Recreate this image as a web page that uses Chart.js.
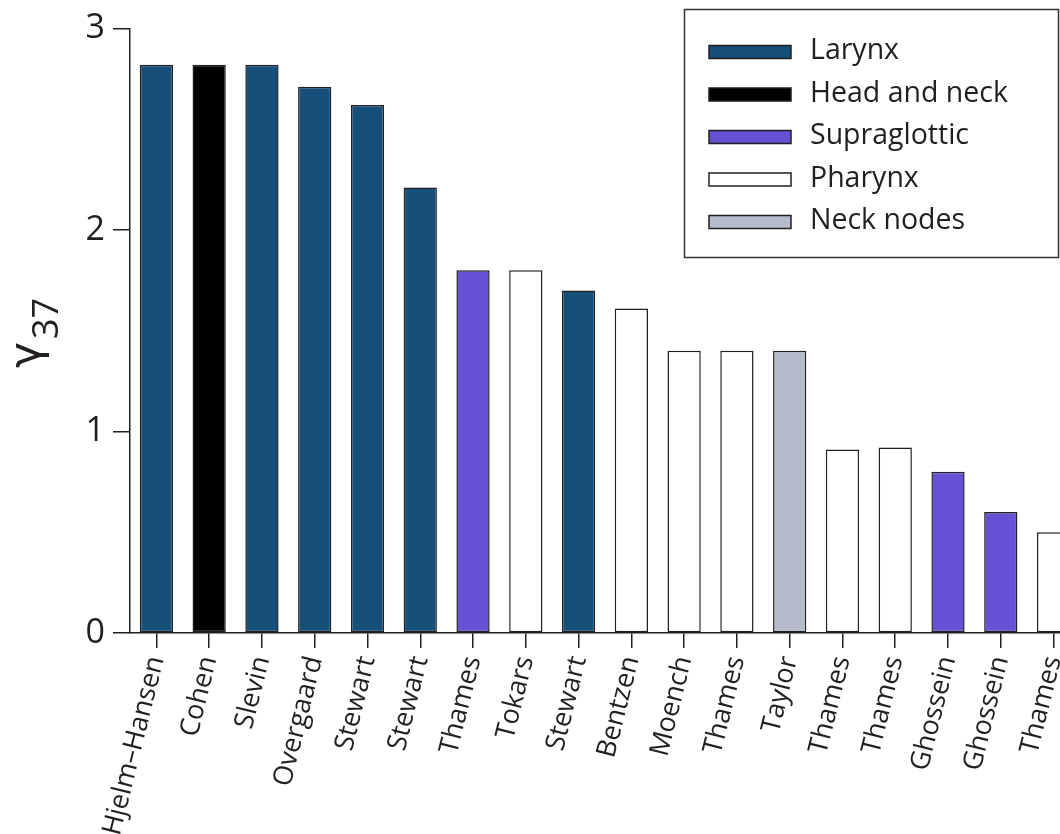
<!DOCTYPE html>
<html>
<head>
<meta charset="utf-8">
<script src="https://cdn.jsdelivr.net/npm/chart.js@4/dist/chart.umd.min.js"></script>
<style>
  html, body { margin: 0; padding: 0; background: #fff; overflow: hidden; }
  #wrap { width: 1060px; height: 834px; overflow: hidden; }
</style>
</head>
<body>
<div id="wrap">
  <canvas id="chart" width="1090" height="834"></canvas>
</div>
<script>
// study authors, one bar each
const authors = ['Hjelm–Hansen', 'Cohen', 'Slevin', 'Overgaard', 'Stewart', 'Stewart', 'Thames', 'Tokars', 'Stewart',
  'Bentzen', 'Moench', 'Thames', 'Taylor', 'Thames', 'Thames', 'Ghossein', 'Ghossein', 'Thames'];
const gamma37 = [2.82, 2.82, 2.82, 2.71, 2.62, 2.21, 1.8, 1.8, 1.7, 1.61, 1.4, 1.4, 1.4, 0.91, 0.92, 0.8, 0.6, 0.5];
// index into siteNames for every bar
const site = [0, 1, 0, 0, 0, 0, 2, 3, 0, 3, 3, 3, 4, 3, 3, 2, 2, 3];

const siteNames = ['Larynx', 'Head and neck', 'Supraglottic', 'Pharynx', 'Neck nodes'];
const siteColors = ['#164f79', '#000000', '#6650d4', '#ffffff', '#b6bccc'];
const yTicks = [0, 1, 2, 3];

const ink = '#231f20';
const font = '"Open Sans", "Noto Sans", sans-serif';

// boxed legend in the top right corner
const legendBox = {
  id: 'legendBox',
  afterDraw(chart) {
    const ctx = chart.ctx;
    ctx.save();
    ctx.lineWidth = 1.5;
    ctx.strokeStyle = '#333';
    ctx.strokeRect(684.5, 9.5, 374, 248);
    ctx.font = '28.5px ' + font;
    ctx.textBaseline = 'middle';
    siteNames.forEach((name, i) => {
      const y = 52 + i * 42.5;
      ctx.fillStyle = siteColors[i];
      ctx.fillRect(709, y - 6.5, 82, 13);
      ctx.strokeStyle = ink;
      ctx.strokeRect(709, y - 6.5, 82, 13);
      ctx.fillStyle = ink;
      ctx.fillText(name, 810, y - 1);
    });
    ctx.restore();
  }
};

// gamma with subscript 37, turned up the y axis
const yTitle = {
  id: 'yTitle',
  afterDraw(chart) {
    const ctx = chart.ctx;
    ctx.save();
    ctx.fillStyle = ink;
    ctx.translate(40, 368);
    ctx.rotate(-Math.PI / 2);
    ctx.font = '44px "DejaVu Sans", sans-serif';
    ctx.fillText('γ', 0, 0);
    const w = ctx.measureText('γ').width;
    ctx.font = '36px ' + font;
    ctx.fillText('37', w + 3, 18);
    ctx.restore();
  }
};

new Chart(document.getElementById('chart'), {
  type: 'bar',
  data: {
    labels: authors,
    datasets: [{
      data: gamma37,
      backgroundColor: site.map(s => siteColors[s]),
      borderColor: ink,
      borderWidth: 1.5,
      borderSkipped: false,
      barPercentage: 0.63,
      categoryPercentage: 1
    }]
  },
  options: {
    responsive: false,
    animation: false,
    layout: { padding: { top: 28, right: 0, left: 0, bottom: 0 } },
    plugins: { legend: { display: false }, tooltip: { enabled: false } },
    scales: {
      x: {
        afterFit(scale) { scale.height = 201; },
        grid: { drawOnChartArea: false, offset: false, tickLength: 15, color: ink, lineWidth: 1.5 },
        border: { display: true, color: ink, width: 1.5 },
        ticks: {
          autoSkip: false, minRotation: 76, maxRotation: 76, padding: 5,
          color: ink, font: { family: font, size: 27 }
        }
      },
      y: {
        min: 0,
        max: 3,
        afterFit(scale) { scale.width = 130; },
        afterBuildTicks(scale) { scale.ticks = yTicks.map(v => ({ value: v })); },
        grid: { drawOnChartArea: false, tickLength: 17, color: ink, lineWidth: 1.5 },
        border: { display: true, color: ink, width: 1.5 },
        ticks: { padding: 8, color: ink, font: { family: font, size: 34 } }
      }
    }
  },
  plugins: [legendBox, yTitle]
});
</script>
</body>
</html>
